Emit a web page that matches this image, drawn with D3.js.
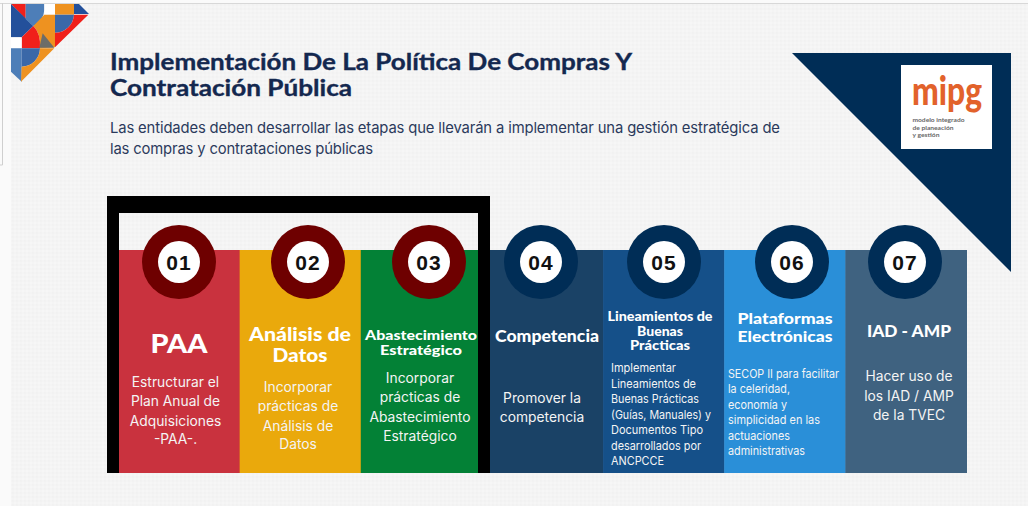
<!DOCTYPE html>
<html lang="es"><head><meta charset="utf-8">
<script src="https://cdn.jsdelivr.net/npm/d3@7/dist/d3.min.js"></script>
<style>html,body{margin:0;padding:0;background:#fafafa;overflow:hidden}svg{display:block}</style>
</head><body><svg id="c" width="1028" height="506"></svg>
<script>
// ---- data ----
const categories = ["PAA","Análisis de Datos","Abastecimiento Estratégico","Competencia","Lineamientos de Buenas Prácticas","Plataformas Electrónicas","IAD - AMP"];
const numbers = ["01","02","03","04","05","06","07"];
const titleLines = [["PAA"],["Análisis de","Datos"],["Abastecimiento","Estratégico"],["Competencia"],["Lineamientos de","Buenas","Prácticas"],["Plataformas","Electrónicas"],["IAD - AMP"]];
const descLines = [
 ["Estructurar el","Plan Anual de","Adquisiciones","-PAA-."],
 ["Incorporar","prácticas de","Análisis de","Datos"],
 ["Incorporar","prácticas de","Abastecimiento","Estratégico"],
 ["Promover la","competencia"],
 ["Implementar","Lineamientos de","Buenas Prácticas","(Guías, Manuales) y","Documentos Tipo","desarrollados por","ANCPCCE"],
 ["SECOP II para facilitar","la celeridad,","economía y","simplicidad en las","actuaciones","administrativas"],
 ["Hacer uso de","los IAD / AMP","de la TVEC"]];
const heading = ["Implementación De La Política De Compras Y","Contratación Pública"];
const subheading = ["Las entidades deben desarrollar las etapas que llevarán a implementar una gestión estratégica de","las compras y contrataciones públicas"];
const logoLines = ["modelo integrado","de planeación","y gestión"];

// ---- styles / layout ----
const barColor = d3.scaleOrdinal(categories,["#c9323e","#eaa90c","#038136","#1a4266","#155089","#2a8fd8","#3f6280"]);
const ringColor = d3.scaleOrdinal(categories,["#6e0000","#6e0000","#6e0000","#002d56","#002d56","#002d56","#002d56"]);
const x = d3.scaleBand().domain(categories).range([118.5,966.5]);
const y = d3.scaleLinear().domain([0,1]).range([473,250]);
const ringX = [179,308,429,541,664,792,905];
const titleStyle = [
 {x:179,y:[353],fs:27,w:[57]},
 {x:300,y:[341,362],fs:18.5,w:[102,55]},
 {x:421,y:[340,355],fs:13,w:[112,82]},
 {x:547,y:[342],fs:16,w:[104]},
 {x:660,y:[321,336,350],fs:12.5,w:[105,46,60]},
 {x:785,y:[324,342],fs:15.5,w:[95,95]},
 {x:909,y:[337],fs:17,w:[84]}];
const descStyle = [
 {x:175.5,y:[387,406,426,444],fs:13.8,a:"middle"},
 {x:298,y:[392,411,431,449],fs:13.8,a:"middle"},
 {x:420,y:[383,402,422,441],fs:13.8,a:"middle"},
 {x:542,y:[403,422],fs:13.8,a:"middle"},
 {x:611,y:[372,388,403,419,434,450,465],fs:11.6,a:"start",w:[65,85,88,100,92,90,53]},
 {x:728,y:[378,393,409,424,440,455],fs:11.6,a:"start",w:[111,62,59,92,62,77]},
 {x:909,y:[381,401,420],fs:13.8,a:"middle"}];

const svg = d3.select("#c");
const defs = svg.append("defs");
const pat = defs.append("pattern").attr("id","tex").attr("width",4).attr("height",4).attr("patternUnits","userSpaceOnUse");
pat.append("rect").attr("width",4).attr("height",4).attr("fill","#f4f4f4");
pat.append("circle").attr("cx",1).attr("cy",1).attr("r",.9).attr("fill","#f1f1f1");
pat.append("circle").attr("cx",3).attr("cy",3).attr("r",.9).attr("fill","#f7f7f7");

// page
svg.append("rect").attr("width",1028).attr("height",506).attr("fill","#fafafa");
svg.append("rect").attr("x",11).attr("y",4).attr("width",1017).attr("height",502).attr("fill","url(#tex)");
svg.append("path").attr("d","M0,3.5H1028").attr("stroke","#d8d8d8").attr("stroke-width",1);
svg.append("path").attr("d","M2.5,3V165H0").attr("stroke","#cfcfcf").attr("fill","none");

// mosaic logo
const g = svg.append("g").attr("transform","translate(5,0) scale(0.3333)");
const mosaic = [
 ["#f0201a","M18,12H62V58Z"],
 ["#23509b","M18,12L85,78L50,112H18Z"],
 ["#4d7eb8","M62,12H118V30Q115,65 85,78L62,58Z"],
 ["#ffffff","M118,12H150V44H118Z"],
 ["#ee9220","M150,12H207V44H150Z"],
 ["#23509b","M207,12H222L252,42H207Z"],
 ["#ee9220","M85,78L118,44H150V142L105,145Q108,100 85,78Z"],
 ["#3a68a8","M150,44H207A57,57 0 0 1 150,98Z"],
 ["#f0201a","M207,44H250L150,142V98A57,57 0 0 0 207,44Z"],
 ["#f0201a","M85,78Q108,100 105,145H50V112Z"],
 ["#ffffff","M18,112H50V145H18Z"],
 ["#6d6d68","M113,100L148,143H103Z"],
 ["#4d7eb8","M18,145H50V245L18,215Z"],
 ["#3a68a8","M50,145H105A55,55 0 0 1 50,200Z"],
 ["#ee9220","M50,200A55,55 0 0 0 105,145H148L48,245Z"]];
g.selectAll("path").data(mosaic).join("path").attr("fill",d=>d[0]).attr("d",d=>d[1]);

// heading
const head = svg.append("g").attr("font-family","Lato, sans-serif").attr("font-weight",700).attr("fill","#14284f").attr("font-size",22.5);
head.selectAll("text").data(heading).join("text").attr("x",110).attr("y",(d,i)=>70+i*26).attr("textLength",(d,i)=>[522,242][i]).attr("lengthAdjust","spacingAndGlyphs").attr("stroke","#14284f").attr("stroke-width",.35).text(d=>d);
const sub = svg.append("g").attr("font-family","Inter, sans-serif").attr("fill","#2b3a5c").attr("font-size",14.8);
sub.selectAll("text").data(subheading).join("text").attr("x",110).attr("y",(d,i)=>133+i*21).attr("textLength",(d,i)=>[670,263][i]).attr("lengthAdjust","spacing").text(d=>d);

// navy triangle + logo
svg.append("path").attr("d","M792,53H1011V272Z").attr("fill","#002d56");
svg.append("rect").attr("x",901).attr("y",65).attr("width",91).attr("height",84).attr("fill","#fff");
svg.append("text").attr("x",912).attr("y",105).attr("font-family","Lato, sans-serif").attr("font-weight",900).attr("font-size",40).attr("fill","#e2622b").attr("textLength",70).attr("lengthAdjust","spacingAndGlyphs").text("mipg");
svg.append("g").attr("font-family","Lato, sans-serif").attr("font-weight",700).attr("font-size",6.4).attr("fill","#666")
 .selectAll("text").data(logoLines).join("text").attr("x",912.5).attr("y",(d,i)=>122+i*7.5).attr("textLength",(d,i)=>[52,41,27][i]).attr("lengthAdjust","spacingAndGlyphs").text(d=>d);

// columns
svg.append("g").selectAll("rect").data(categories).join("rect")
 .attr("x",d=>x(d)).attr("width",x.bandwidth()+.5).attr("y",y(1)).attr("height",y(0)-y(1)).attr("fill",d=>barColor(d));

// black frame
svg.append("path").attr("fill","#000").attr("fill-rule","evenodd")
 .attr("d","M107,196H490V473H478V213H119V473H107Z");

// rings
const rings = svg.append("g").selectAll("g").data(categories).join("g").attr("transform",(d,i)=>`translate(${ringX[i]},262)`);
rings.append("circle").attr("r",37).attr("fill",d=>ringColor(d));
rings.append("circle").attr("r",21).attr("fill","#fff");
rings.append("text").attr("text-anchor","middle").attr("y",7.5).attr("font-family","Liberation Sans, sans-serif").attr("font-weight",700).attr("font-size",21).attr("letter-spacing",1).attr("fill","#111")
 .text((d,i)=>numbers[i]);

// titles
const t = svg.append("g").attr("font-family","Lato, sans-serif").attr("font-weight",900).attr("fill","#fff").attr("text-anchor","middle");
titleLines.forEach((lines,i)=>{
 const s = titleStyle[i];
 t.append("g").attr("font-size",s.fs).selectAll("text").data(lines).join("text")
  .attr("x",s.x).attr("y",(d,j)=>s.y[j]).attr("textLength",(d,j)=>s.w[j]).attr("lengthAdjust","spacingAndGlyphs").text(d=>d);
});
// descriptions
const de = svg.append("g").attr("font-family","Inter, sans-serif").attr("fill","#f4f4f4");
descLines.forEach((lines,i)=>{
 const s = descStyle[i];
 const sel = de.append("g").attr("font-size",s.fs).attr("text-anchor",s.a).selectAll("text").data(lines).join("text")
  .attr("x",s.x).attr("y",(d,j)=>s.y[j]).text(d=>d);
 if (s.w) sel.attr("textLength",(d,j)=>s.w[j]).attr("lengthAdjust","spacingAndGlyphs");
});
</script></body></html>
